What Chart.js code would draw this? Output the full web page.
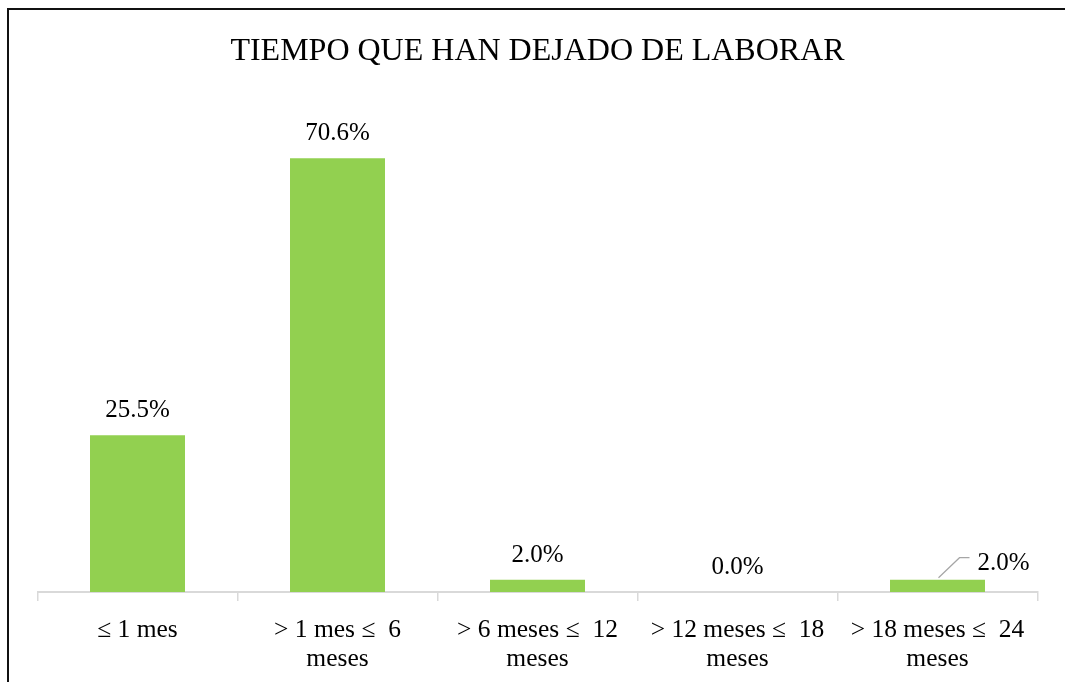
<!DOCTYPE html>
<html>
<head>
<meta charset="utf-8">
<script src="https://cdn.jsdelivr.net/npm/chart.js@4/dist/chart.umd.min.js"></script>
<style>
  html, body { margin: 0; padding: 0; background: #fff; }
  #wrap { position: relative; width: 1065px; height: 682px; overflow: hidden; }
  #frame {
    position: absolute; left: 7px; top: 8px; width: 1080px; height: 700px;
    border-top: 2px solid #111; border-left: 2px solid #111;
    pointer-events: none;
  }
</style>
</head>
<body>
<div id="wrap">
  <canvas id="chart" width="1065" height="682"></canvas>
  <div id="frame"></div>
</div>
<script>
/* Data */
const CATEGORIES = [
  ['\u2264 1 mes'],
  ['> 1 mes \u2264  6', 'meses'],
  ['> 6 meses \u2264  12', 'meses'],
  ['> 12 meses \u2264  18', 'meses'],
  ['> 18 meses \u2264  24', 'meses'],
];
const PERCENTS = [25.5, 70.6, 2.0, 0.0, 2.0];
const Y_MAX = 80;

const SERIF = '"Liberation Serif", "Times New Roman", serif';
const BAR_GREEN = '#92D050';
const AXIS_GREY = '#D9D9D9';

/* Value labels above bars; one label pushed aside with a leader line */
const valueLabels = {
  id: 'valueLabels',
  afterDatasetsDraw(chart, args, opts) {
    const { ctx } = chart;
    const meta = chart.getDatasetMeta(0);
    ctx.save();
    ctx.font = `25px ${SERIF}`;
    ctx.fillStyle = '#000';
    ctx.textBaseline = 'alphabetic';
    meta.data.forEach((bar, i) => {
      const text = PERCENTS[i].toFixed(1) + '%';
      const shift = opts.shifted[i];
      if (!shift) {
        ctx.textAlign = 'center';
        ctx.fillText(text, bar.x, bar.y - opts.gap);
        return;
      }
      const base = bar.y - opts.gap + shift.dy;
      const midY = base - 12;
      ctx.strokeStyle = '#A6A6A6';
      ctx.lineWidth = 1.2;
      ctx.beginPath();
      ctx.moveTo(bar.x + 1, bar.y - 2);
      ctx.lineTo(bar.x + 22, midY);
      ctx.lineTo(bar.x + 32, midY);
      ctx.stroke();
      ctx.textAlign = 'left';
      ctx.fillText(text, bar.x + shift.dx, base);
    });
    ctx.restore();
  },
};

new Chart(document.getElementById('chart'), {
  type: 'bar',
  data: {
    labels: CATEGORIES,
    datasets: [{
      data: PERCENTS,
      backgroundColor: BAR_GREEN,
      borderWidth: 0,
      barPercentage: 0.475,
      categoryPercentage: 1,
    }],
  },
  options: {
    responsive: false,
    animation: false,
    events: [],
    layout: { padding: { left: 37.5, right: 27.5, top: 0, bottom: 0 } },
    plugins: {
      legend: { display: false },
      tooltip: { enabled: false },
      title: {
        display: true,
        text: 'TIEMPO QUE HAN DEJADO DE LABORAR',
        color: '#000',
        font: { family: SERIF, size: 32, weight: 'normal', lineHeight: 1.2 },
        padding: { top: 32, bottom: 30 },
      },
      valueLabels: {
        gap: 18,
        shifted: { 4: { dx: 40, dy: 8 } },
      },
    },
    scales: {
      x: {
        grid: {
          display: true,
          offset: true,
          drawOnChartArea: false,
          drawTicks: true,
          tickLength: 9,
          color: AXIS_GREY,
          lineWidth: 1.5,
        },
        border: { display: true, color: AXIS_GREY, width: 2 },
        ticks: {
          color: '#000',
          font: { family: SERIF, size: 25.5, lineHeight: 1.12 },
          padding: 15,
          maxRotation: 0,
          autoSkip: false,
        },
        afterFit(scale) { scale.height = 90; },
      },
      y: {
        display: false,
        min: 0,
        max: Y_MAX,
      },
    },
  },
  plugins: [valueLabels],
});
</script>
</body>
</html>
